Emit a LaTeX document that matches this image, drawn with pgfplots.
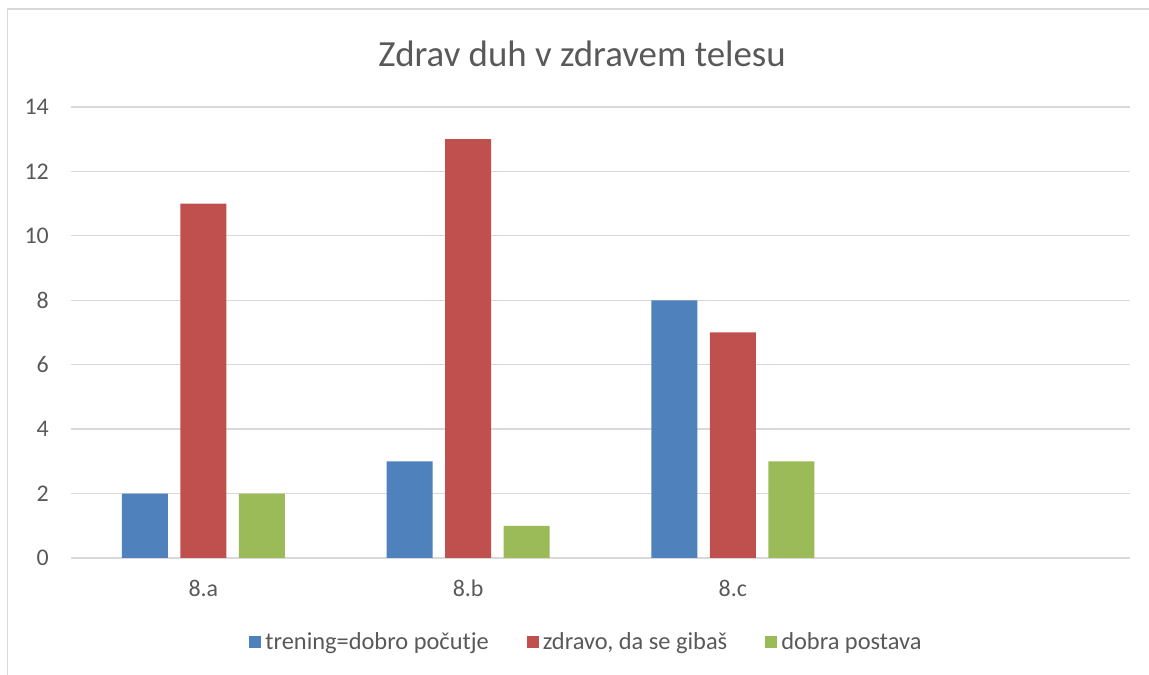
\documentclass[border=0pt]{standalone}
\usepackage{fontspec}
\setmainfont{Carlito}
\usepackage{pgfplots}
\pgfplotsset{compat=1.18}
\definecolor{cblue}{HTML}{4F81BD}
\definecolor{cred}{HTML}{C0504D}
\definecolor{cgreen}{HTML}{9BBB59}
\definecolor{gridc}{HTML}{D9D9D9}
\definecolor{textc}{HTML}{595959}
\begin{document}
\begin{tikzpicture}[x=1bp,y=1bp]
\useasboundingbox (0,0) rectangle (1149,675);
\draw[color=gridc, line width=1.5bp] (7.5,0) -- (7.5,666) -- (1149,666);
\node[text=textc, font=\fontsize{37}{44}\selectfont, anchor=base] at (582,608) {Zdrav duh v zdravem telesu};
\begin{axis}[
  at={(71bp,117bp)}, anchor=south west,
  scale only axis, width=1059bp, height=451bp,
  ybar=12.5bp, bar width=46bp,
  xmin=-0.5, xmax=3.5, ymin=0, ymax=14,
  xtick={0,1,2}, xticklabels={8.a,8.b,8.c},
  ytick={0,2,...,14},
  /pgf/number format/assume math mode=true,
  ymajorgrids, grid style={gridc, line width=1.3bp},
  axis line style={draw=none},
  major tick length=0pt,
  tick label style={text=textc, font=\fontsize{24}{28}\selectfont, inner sep=0pt},
  yticklabel style={anchor=east, xshift=-22bp},
  xticklabel style={anchor=north, yshift=-22bp},
  legend columns=-1,
  legend style={at={(axis description cs:0.4877,-0.186)}, anchor=center, draw=none,
    font=\fontsize{24.5}{28}\selectfont, text=textc,
    /tikz/every even column/.append style={column sep=34bp},
    nodes={inner sep=4bp}},
  legend image code/.code={\fill[#1] (0bp,-6bp) rectangle (12bp,6bp);},
]
\addplot[fill=cblue, draw=none] coordinates {(0,2) (1,3) (2,8)};
\addplot[fill=cred, draw=none] coordinates {(0,11) (1,13) (2,7)};
\addplot[fill=cgreen, draw=none] coordinates {(0,2) (1,1) (2,3)};
\legend{trening=dobro počutje, {zdravo, da se gibaš}, dobra postava}
\end{axis}
\end{tikzpicture}
\end{document}
